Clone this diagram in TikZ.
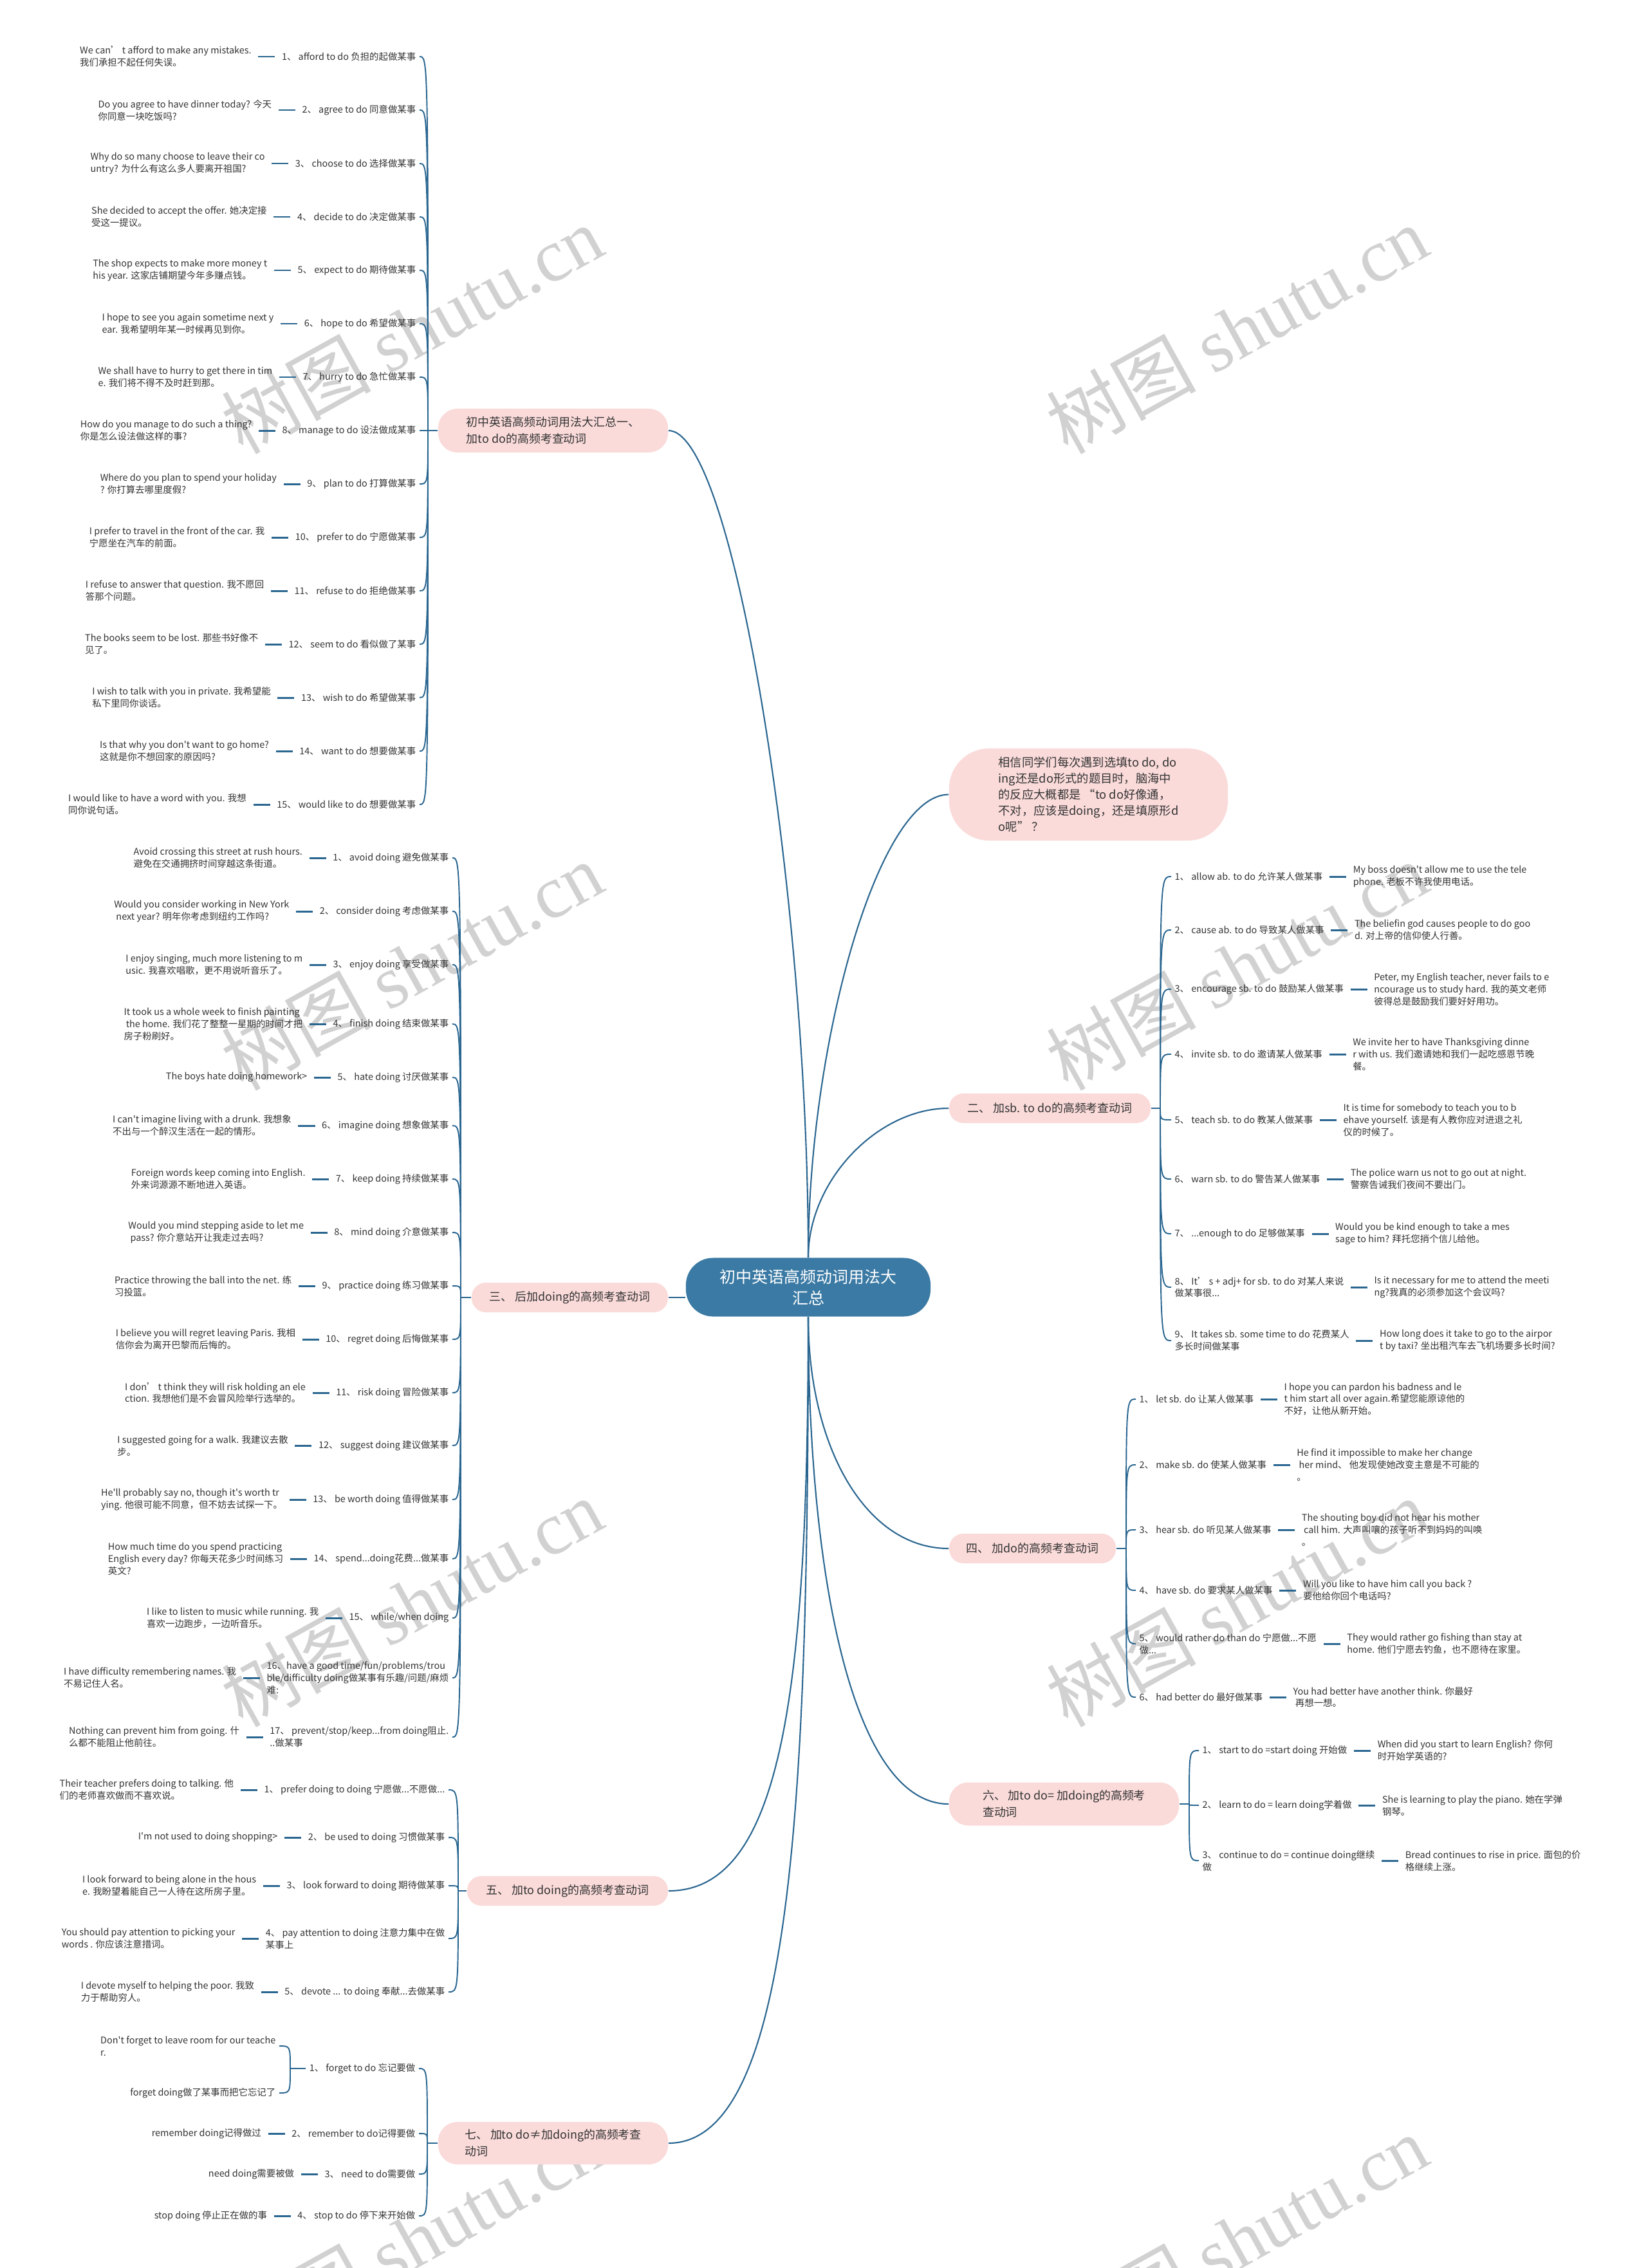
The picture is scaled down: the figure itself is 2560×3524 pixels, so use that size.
\documentclass[tikz,border=0pt]{standalone}
\usepackage{fontspec}
\newfontfamily\cjk{Noto Sans CJK SC}
\newfontfamily\wmfont{Liberation Serif}
\usetikzlibrary{positioning}
\definecolor{mainblue}{HTML}{3B7AA4}
\definecolor{linkblue}{HTML}{2A6690}
\definecolor{topicpink}{HTML}{FADBDA}
\definecolor{inkgray}{HTML}{333333}
\tikzset{%
  % Specifications for style of nodes:
  leaf/.style={inner xsep=0.05cm, inner ysep=0.02cm, align=left, text=inkgray,
    font=\cjk\fontsize{4.1pt}{5.4pt}\selectfont},
  topic/.style={fill=topicpink, rounded corners=0.22cm, inner sep=0pt, align=left,
    text=inkgray, minimum height=0.46cm, font=\cjk\fontsize{5.1pt}{7.4pt}\selectfont},
  hub/.style={fill=mainblue, rounded corners=0.42cm, inner sep=0pt, align=center,
    text=white, font=\cjk\fontsize{7.1pt}{9.4pt}\selectfont},
  trunk/.style={draw=linkblue, line width=0.6pt},
  branch/.style={draw=linkblue, line width=0.55pt},
  tie/.style={draw=linkblue, line width=0.85pt, shorten <=0.05cm, shorten >=0.05cm},
  wm/.style={text=black!18, rotate=29, font=\cjk\fontsize{33pt}{33pt}\selectfont},
}

\begin{document}
\begin{tikzpicture}[x=0.01cm, y=-0.01cm]
  \useasboundingbox (0,0) rectangle (2560,3524);
  \foreach \wx in {640,1922}
    \foreach \wy in {512,1501,2490,3479}
      \node[wm] (wm\wx\wy) at (\wx,\wy) {树图 {\wmfont shutu.cn}};

  % centre and first level
  \node[hub, minimum width=3.8cm, minimum height=0.91cm] (hub) at (1256,2000) {初中英语高频动词用法大\\汇总};
  \node[topic, minimum width=3.57cm, minimum height=0.68cm, rounded corners=0.3cm] (t1) at (859.5,669) {初中英语高频动词用法大汇总一、\\加to do的高频考查动词};
  \node[topic, minimum width=4.33cm, minimum height=1.43cm, rounded corners=0.62cm,
    font=\cjk\fontsize{5.2pt}{7.1pt}\selectfont] (intro) at (1691.5,1234.5)
    {相信同学们每次遇到选填to do, do\\ing还是do形式的题目时，脑海中\\的反应大概都是 “to do好像通，\\不对，应该是doing，还是填原形d\\o呢” ？};
  \node[topic, minimum width=3.13cm] (t2) at (1631.5,1722) {二、 加sb. to do的高频考查动词};
  \node[topic, minimum width=3.05cm] (t3) at (885.5,2016) {三、 后加doing的高频考查动词};
  \node[topic, minimum width=2.59cm] (t4) at (1604.5,2406) {四、 加do的高频考查动词};
  \node[topic, minimum width=3.12cm] (t5) at (882,2938) {五、 加to doing的高频考查动词};
  \node[topic, minimum width=3.57cm, minimum height=0.67cm, rounded corners=0.3cm] (t6) at (1653.5,2803) {六、 加to do= 加doing的高频考\\查动词};
  \node[topic, minimum width=3.57cm, minimum height=0.66cm, rounded corners=0.3cm] (t7) at (859.5,3330) {七、 加to do≠加doing的高频考查\\动词};

  \draw[trunk] (hub.north) .. controls +(0,-554) and +(102,0) .. (t1.east);
  \draw[trunk] (hub.north) .. controls +(0,-330) and +(-110,0) .. (intro.west);
  \draw[trunk] (hub.north) .. controls +(0,-120) and +(-110,0) .. (t2.west);
  \draw[trunk] (hub.west |- t3.east) -- (t3.east);
  \draw[trunk] (hub.south) .. controls +(0,200) and +(-130,0) .. (t4.west);
  \draw[trunk] (hub.south) .. controls +(0,400) and +(-150,0) .. (t6.west);
  \draw[trunk] (hub.south) .. controls +(0,600) and +(172,0) .. (t5.east);
  \draw[trunk] (hub.south) .. controls +(0,750) and +(192,0) .. (t7.east);

  % branch one: to do
  \coordinate (j1) at (665,669);
  \node[leaf, anchor=east] (td1) at (652,88) {1、 afford to do 负担的起做某事};
  \node[leaf, anchor=east] (td2) at (652,171) {2、 agree to do 同意做某事};
  \node[leaf, anchor=east] (td3) at (652,254) {3、 choose to do 选择做某事};
  \node[leaf, anchor=east] (td4) at (652,337) {4、 decide to do 决定做某事};
  \node[leaf, anchor=east] (td5) at (652,420) {5、 expect to do 期待做某事};
  \node[leaf, anchor=east] (td6) at (652,503) {6、 hope to do 希望做某事};
  \node[leaf, anchor=east] (td7) at (652,586) {7、 hurry to do 急忙做某事};
  \node[leaf, anchor=east] (td8) at (652,669) {8、 manage to do 设法做成某事};
  \node[leaf, anchor=east] (td9) at (652,752) {9、 plan to do 打算做某事};
  \node[leaf, anchor=east] (td10) at (652,835) {10、 prefer to do 宁愿做某事};
  \node[leaf, anchor=east] (td11) at (652,918) {11、 refuse to do 拒绝做某事};
  \node[leaf, anchor=east] (td12) at (652,1001) {12、 seem to do 看似做了某事};
  \node[leaf, anchor=east] (td13) at (652,1084) {13、 wish to do 希望做某事};
  \node[leaf, anchor=east] (td14) at (652,1167) {14、 want to do 想要做某事};
  \node[leaf, anchor=east] (td15) at (652,1250) {15、 would like to do 想要做某事};
  \node[leaf, left=0.36cm of td1] (tdx1) {We can’ t afford to make any mistakes.\\我们承担不起任何失误。};
  \node[leaf, left=0.36cm of td2] (tdx2) {Do you agree to have dinner today? 今天\\你同意一块吃饭吗?};
  \node[leaf, left=0.36cm of td3] (tdx3) {Why do so many choose to leave their co\\untry? 为什么有这么多人要离开祖国?};
  \node[leaf, left=0.36cm of td4] (tdx4) {She decided to accept the offer. 她决定接\\受这一提议。};
  \node[leaf, left=0.36cm of td5] (tdx5) {The shop expects to make more money t\\his year. 这家店铺期望今年多赚点钱。};
  \node[leaf, left=0.36cm of td6] (tdx6) {I hope to see you again sometime next y\\ear. 我希望明年某一时候再见到你。};
  \node[leaf, left=0.36cm of td7] (tdx7) {We shall have to hurry to get there in tim\\e. 我们将不得不及时赶到那。};
  \node[leaf, left=0.36cm of td8] (tdx8) {How do you manage to do such a thing?\\你是怎么设法做这样的事?};
  \node[leaf, left=0.36cm of td9] (tdx9) {Where do you plan to spend your holiday\\? 你打算去哪里度假?};
  \node[leaf, left=0.36cm of td10] (tdx10) {I prefer to travel in the front of the car. 我\\宁愿坐在汽车的前面。};
  \node[leaf, left=0.36cm of td11] (tdx11) {I refuse to answer that question. 我不愿回\\答那个问题。};
  \node[leaf, left=0.36cm of td12] (tdx12) {The books seem to be lost. 那些书好像不\\见了。};
  \node[leaf, left=0.36cm of td13] (tdx13) {I wish to talk with you in private. 我希望能\\私下里同你谈话。};
  \node[leaf, left=0.36cm of td14] (tdx14) {Is that why you don't want to go home?\\这就是你不想回家的原因吗?};
  \node[leaf, left=0.36cm of td15] (tdx15) {I would like to have a word with you. 我想\\同你说句话。};
  \draw[branch] (t1.west) -- (j1);
  \foreach \i in {1,...,15} {
    \draw[branch] (j1) .. controls (j1 |- td\i.east) .. (td\i.east);
    \draw[tie] (tdx\i) -- (td\i);
  }

  % branch two: sb. to do
  \coordinate (j2) at (1803,1722);
  \node[leaf, anchor=west] (sb1) at (1820,1362) {1、 allow ab. to do 允许某人做某事};
  \node[leaf, anchor=west] (sb2) at (1820,1445) {2、 cause ab. to do 导致某人做某事};
  \node[leaf, anchor=west] (sb3) at (1820,1537) {3、 encourage sb. to do 鼓励某人做某事};
  \node[leaf, anchor=west] (sb4) at (1820,1638) {4、 invite sb. to do 邀请某人做某事};
  \node[leaf, anchor=west] (sb5) at (1820,1740) {5、 teach sb. to do 教某人做某事};
  \node[leaf, anchor=west] (sb6) at (1820,1832) {6、 warn sb. to do 警告某人做某事};
  \node[leaf, anchor=west] (sb7) at (1820,1917) {7、 ...enough to do 足够做某事};
  \node[leaf, anchor=west] (sb8) at (1820,2000) {8、 It’ s + adj+ for sb. to do 对某人来说\\做某事很...};
  \node[leaf, anchor=west] (sb9) at (1820,2083) {9、 It takes sb. some time to do 花费某人\\多长时间做某事};
  \node[leaf, right=0.36cm of sb1] (sbx1) {My boss doesn't allow me to use the tele\\phone. 老板不许我使用电话。};
  \node[leaf, right=0.36cm of sb2] (sbx2) {The beliefin god causes people to do goo\\d. 对上帝的信仰使人行善。};
  \node[leaf, right=0.36cm of sb3] (sbx3) {Peter, my English teacher, never fails to e\\ncourage us to study hard. 我的英文老师\\彼得总是鼓励我们要好好用功。};
  \node[leaf, right=0.36cm of sb4] (sbx4) {We invite her to have Thanksgiving dinne\\r with us. 我们邀请她和我们一起吃感恩节晚\\餐。};
  \node[leaf, right=0.36cm of sb5] (sbx5) {It is time for somebody to teach you to b\\ehave yourself. 该是有人教你应对进退之礼\\仪的时候了。};
  \node[leaf, right=0.36cm of sb6] (sbx6) {The police warn us not to go out at night.\\警察告诫我们夜间不要出门。};
  \node[leaf, right=0.36cm of sb7] (sbx7) {Would you be kind enough to take a mes\\sage to him? 拜托您捎个信儿给他。};
  \node[leaf, right=0.36cm of sb8] (sbx8) {Is it necessary for me to attend the meeti\\ng?我真的必须参加这个会议吗?};
  \node[leaf, right=0.36cm of sb9] (sbx9) {How long does it take to go to the airpor\\t by taxi? 坐出租汽车去飞机场要多长时间?};
  \draw[branch] (t2.east) -- (j2);
  \foreach \i in {1,...,9} {
    \draw[branch] (j2) .. controls (j2 |- sb\i.west) .. (sb\i.west);
    \draw[tie] (sb\i) -- (sbx\i);
  }

  % branch three: doing
  \coordinate (j3) at (716,2016);
  \node[leaf, anchor=east] (dg1) at (703,1333) {1、 avoid doing 避免做某事};
  \node[leaf, anchor=east] (dg2) at (703,1416) {2、 consider doing 考虑做某事};
  \node[leaf, anchor=east] (dg3) at (703,1499) {3、 enjoy doing 享受做某事};
  \node[leaf, anchor=east] (dg4) at (703,1591) {4、 finish doing 结束做某事};
  \node[leaf, anchor=east] (dg5) at (703,1674) {5、 hate doing 讨厌做某事};
  \node[leaf, anchor=east] (dg6) at (703,1749) {6、 imagine doing 想象做某事};
  \node[leaf, anchor=east] (dg7) at (703,1832) {7、 keep doing 持续做某事};
  \node[leaf, anchor=east] (dg8) at (703,1915) {8、 mind doing 介意做某事};
  \node[leaf, anchor=east] (dg9) at (703,1998) {9、 practice doing 练习做某事};
  \node[leaf, anchor=east] (dg10) at (703,2081) {10、 regret doing 后悔做某事};
  \node[leaf, anchor=east] (dg11) at (703,2164) {11、 risk doing 冒险做某事};
  \node[leaf, anchor=east] (dg12) at (703,2246) {12、 suggest doing 建议做某事};
  \node[leaf, anchor=east] (dg13) at (703,2330) {13、 be worth doing 值得做某事};
  \node[leaf, anchor=east] (dg14) at (703,2422) {14、 spend...doing花费...做某事};
  \node[leaf, anchor=east] (dg15) at (703,2514) {15、 while/when doing};
  \node[leaf, anchor=east] (dg16) at (703,2607) {16、have a good time/fun/problems/trou\\ble/difficulty doing做某事有乐趣/问题/麻烦\\难:};
  \node[leaf, anchor=east] (dg17) at (703,2699) {17、 prevent/stop/keep...from doing阻止.\\..做某事};
  \node[leaf, left=0.36cm of dg1] (dgx1) {Avoid crossing this street at rush hours.\\避免在交通拥挤时间穿越这条街道。};
  \node[leaf, left=0.36cm of dg2] (dgx2) {Would you consider working in New York\\\ next year? 明年你考虑到纽约工作吗?};
  \node[leaf, left=0.36cm of dg3] (dgx3) {I enjoy singing, much more listening to m\\usic. 我喜欢唱歌，更不用说听音乐了。};
  \node[leaf, left=0.36cm of dg4] (dgx4) {It took us a whole week to finish painting\\\ the home. 我们花了整整一星期的时间才把\\房子粉刷好。};
  \node[leaf, left=0.36cm of dg5] (dgx5) {The boys hate doing homework>};
  \node[leaf, left=0.36cm of dg6] (dgx6) {I can't imagine living with a drunk. 我想象\\不出与一个醉汉生活在一起的情形。};
  \node[leaf, left=0.36cm of dg7] (dgx7) {Foreign words keep coming into English.\\外来词源源不断地进入英语。};
  \node[leaf, left=0.36cm of dg8] (dgx8) {Would you mind stepping aside to let me\\\ pass? 你介意站开让我走过去吗?};
  \node[leaf, left=0.36cm of dg9] (dgx9) {Practice throwing the ball into the net. 练\\习投篮。};
  \node[leaf, left=0.36cm of dg10] (dgx10) {I believe you will regret leaving Paris. 我相\\信你会为离开巴黎而后悔的。};
  \node[leaf, left=0.36cm of dg11] (dgx11) {I don’ t think they will risk holding an ele\\ction. 我想他们是不会冒风险举行选举的。};
  \node[leaf, left=0.36cm of dg12] (dgx12) {I suggested going for a walk. 我建议去散\\步。};
  \node[leaf, left=0.36cm of dg13] (dgx13) {He'll probably say no, though it's worth tr\\ying. 他很可能不同意，但不妨去试探一下。};
  \node[leaf, left=0.36cm of dg14] (dgx14) {How much time do you spend practicing\\English every day? 你每天花多少时间练习\\英文?};
  \node[leaf, left=0.36cm of dg15] (dgx15) {I like to listen to music while running. 我\\喜欢一边跑步，一边听音乐。};
  \node[leaf, left=0.36cm of dg16] (dgx16) {I have difficulty remembering names. 我\\不易记住人名。};
  \node[leaf, left=0.36cm of dg17] (dgx17) {Nothing can prevent him from going. 什\\么都不能阻止他前往。};
  \draw[branch] (t3.west) -- (j3);
  \foreach \i in {1,...,17} {
    \draw[branch] (j3) .. controls (j3 |- dg\i.east) .. (dg\i.east);
    \draw[tie] (dgx\i) -- (dg\i);
  }

  % branch four: do
  \coordinate (j4) at (1750,2406);
  \node[leaf, anchor=west] (bd1) at (1765,2174) {1、 let sb. do 让某人做某事};
  \node[leaf, anchor=west] (bd2) at (1765,2276) {2、 make sb. do 使某人做某事};
  \node[leaf, anchor=west] (bd3) at (1765,2377) {3、 hear sb. do 听见某人做某事};
  \node[leaf, anchor=west] (bd4) at (1765,2471) {4、 have sb. do 要求某人做某事};
  \node[leaf, anchor=west] (bd5) at (1765,2554) {5、 would rather do than do 宁愿做...不愿\\做...};
  \node[leaf, anchor=west] (bd6) at (1765,2637) {6、 had better do 最好做某事};
  \node[leaf, right=0.36cm of bd1] (bdx1) {I hope you can pardon his badness and le\\t him start all over again.希望您能原谅他的\\不好，让他从新开始。};
  \node[leaf, right=0.36cm of bd2] (bdx2) {He find it impossible to make her change\\\ her mind、 他发现使她改变主意是不可能的\\。};
  \node[leaf, right=0.36cm of bd3] (bdx3) {The shouting boy did not hear his mother\\\ call him. 大声叫嚷的孩子听不到妈妈的叫唤\\。};
  \node[leaf, right=0.36cm of bd4] (bdx4) {Will you like to have him call you back ?\\要他给你回个电话吗?};
  \node[leaf, right=0.36cm of bd5] (bdx5) {They would rather go fishing than stay at\\home. 他们宁愿去钓鱼，也不愿待在家里。};
  \node[leaf, right=0.36cm of bd6] (bdx6) {You had better have another think. 你最好\\\ 再想一想。};
  \draw[branch] (t4.east) -- (j4);
  \foreach \i in {1,...,6} {
    \draw[branch] (j4) .. controls (j4 |- bd\i.west) .. (bd\i.west);
    \draw[tie] (bd\i) -- (bdx\i);
  }

  % branch five: to doing
  \coordinate (j5) at (712,2938);
  \node[leaf, anchor=east] (tg1) at (697,2781) {1、 prefer doing to doing 宁愿做...不愿做...};
  \node[leaf, anchor=east] (tg2) at (697,2855) {2、 be used to doing 习惯做某事};
  \node[leaf, anchor=east] (tg3) at (697,2930) {3、 look forward to doing 期待做某事};
  \node[leaf, anchor=east] (tg4) at (697,3012) {4、 pay attention to doing 注意力集中在做\\某事上};
  \node[leaf, anchor=east] (tg5) at (697,3095) {5、 devote ... to doing 奉献...去做某事};
  \node[leaf, left=0.36cm of tg1] (tgx1) {Their teacher prefers doing to talking. 他\\们的老师喜欢做而不喜欢说。};
  \node[leaf, left=0.36cm of tg2] (tgx2) {I'm not used to doing shopping>};
  \node[leaf, left=0.36cm of tg3] (tgx3) {I look forward to being alone in the hous\\e. 我盼望着能自己一人待在这所房子里。};
  \node[leaf, left=0.36cm of tg4] (tgx4) {You should pay attention to picking your\\words . 你应该注意措词。};
  \node[leaf, left=0.36cm of tg5] (tgx5) {I devote myself to helping the poor. 我致\\力于帮助穷人。};
  \draw[branch] (t5.west) -- (j5);
  \foreach \i in {1,...,5} {
    \draw[branch] (j5) .. controls (j5 |- tg\i.east) .. (tg\i.east);
    \draw[tie] (tgx\i) -- (tg\i);
  }

  % branch six: to do = doing
  \coordinate (j6) at (1848,2803);
  \node[leaf, anchor=west] (eq1) at (1863,2720) {1、 start to do =start doing 开始做};
  \node[leaf, anchor=west] (eq2) at (1863,2805) {2、 learn to do = learn doing学着做};
  \node[leaf, anchor=west] (eq3) at (1863,2891) {3、 continue to do = continue doing继续\\做};
  \node[leaf, right=0.36cm of eq1] (eqx1) {When did you start to learn English? 你何\\时开始学英语的?};
  \node[leaf, right=0.36cm of eq2] (eqx2) {She is learning to play the piano. 她在学弹\\钢琴。};
  \node[leaf, right=0.36cm of eq3] (eqx3) {Bread continues to rise in price. 面包的价\\格继续上涨。};
  \draw[branch] (t6.east) -- (j6);
  \foreach \i in {1,...,3} {
    \draw[branch] (j6) .. controls (j6 |- eq\i.west) .. (eq\i.west);
    \draw[tie] (eq\i) -- (eqx\i);
  }

  % branch seven: to do vs doing
  \coordinate (j7) at (664,3330);
  \node[leaf, anchor=east] (ne1) at (651,3214) {1、 forget to do 忘记要做};
  \node[leaf, anchor=east] (ne2) at (651,3315) {2、 remember to do记得要做};
  \node[leaf, anchor=east] (ne3) at (651,3378) {3、 need to do需要做};
  \node[leaf, anchor=east] (ne4) at (651,3443) {4、 stop to do 停下来开始做};
  \node[leaf, left=0.36cm of ne2] (nex2) {remember doing记得做过};
  \node[leaf, left=0.36cm of ne3] (nex3) {need doing需要被做};
  \node[leaf, left=0.36cm of ne4] (nex4) {stop doing 停止正在做的事};
  \coordinate (k1) at (451,3214);
  \node[leaf, anchor=east] (nea) at (434,3179) {Don't forget to leave room for our teache\\r.};
  \node[leaf, anchor=east] (neb) at (434,3252) {forget doing做了某事而把它忘记了};
  \draw[branch] (t7.west) -- (j7);
  \foreach \i in {1,...,4}
    \draw[branch] (j7) .. controls (j7 |- ne\i.east) .. (ne\i.east);
  \foreach \i in {2,...,4}
    \draw[tie] (nex\i) -- (ne\i);
  \draw[branch] (ne1.west) -- (k1);
  \draw[branch] (k1) .. controls (k1 |- nea.east) .. (nea.east);
  \draw[branch] (k1) .. controls (k1 |- neb.east) .. (neb.east);
\end{tikzpicture}
\end{document}
